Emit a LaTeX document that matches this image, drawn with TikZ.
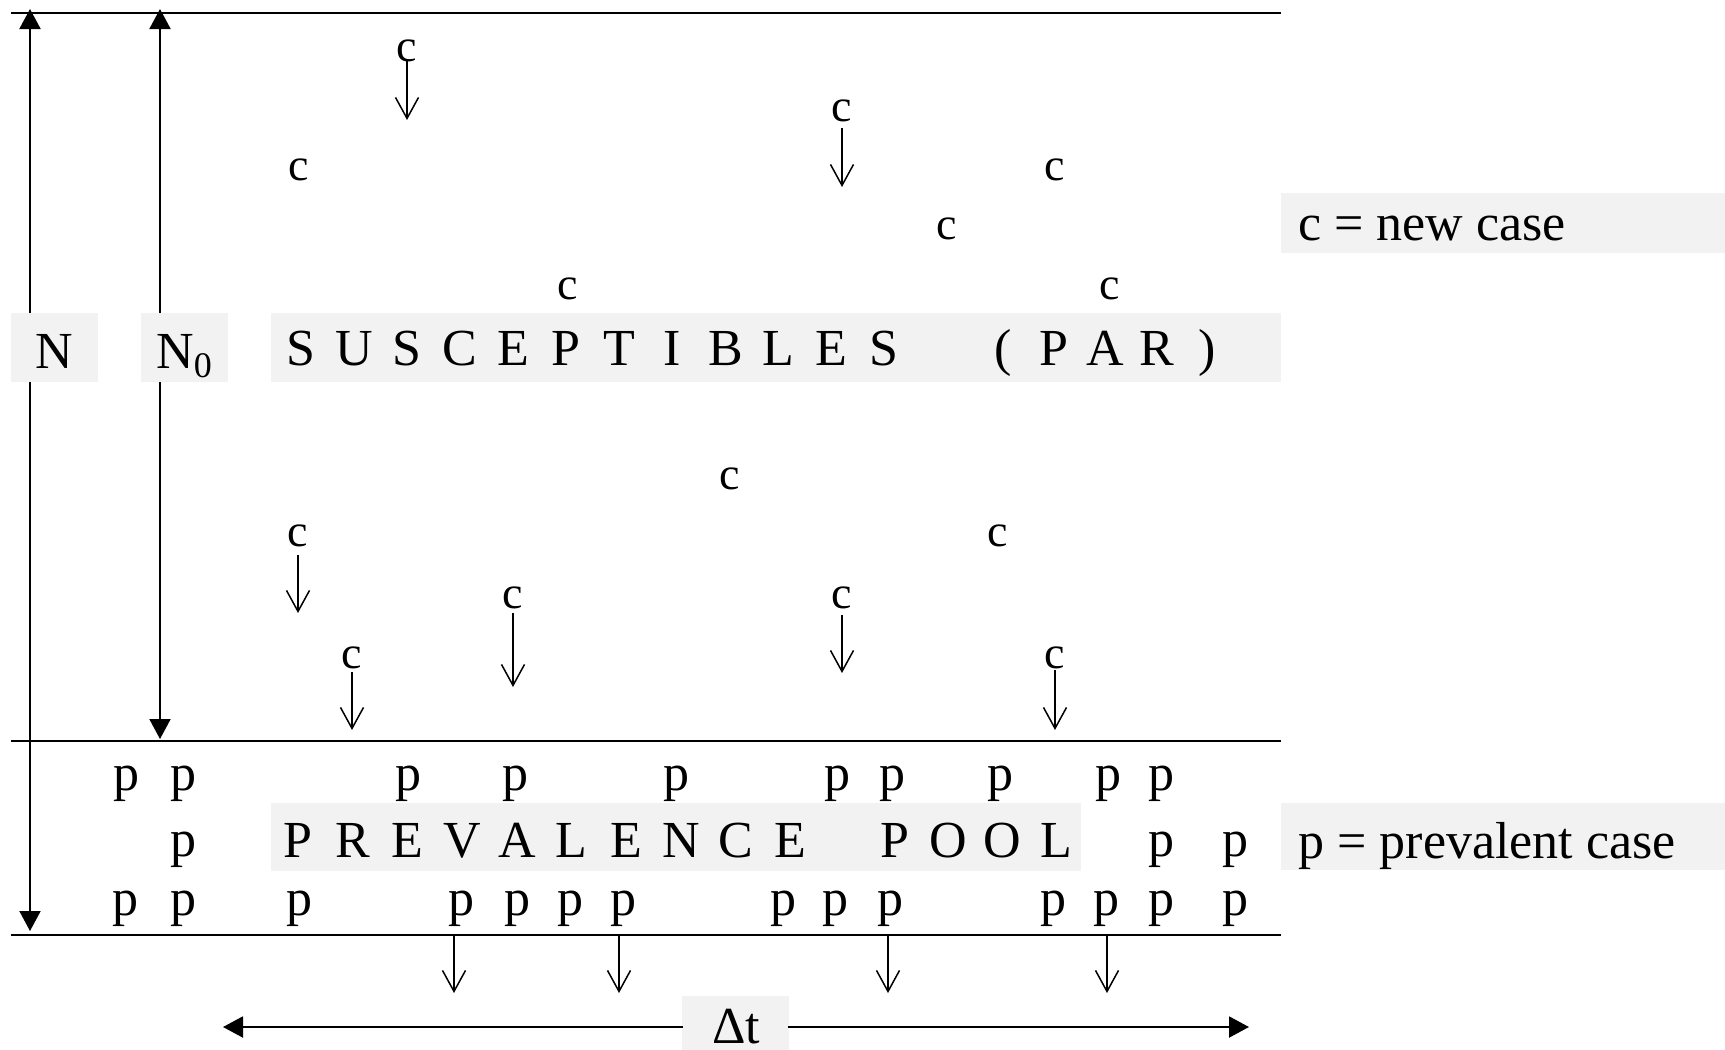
\documentclass[tikz,border=0pt]{standalone}
\usepackage{fontspec}
\setmainfont{Liberation Serif}
\usetikzlibrary{arrows.meta}
\definecolor{boxgray}{HTML}{F2F2F2}
\newcommand\bigfont{\fontsize{26}{31}\selectfont}
\newcommand\cfont{\fontsize{23}{27}\selectfont}
\newcommand\lsa[1]{\makebox[26.5pt]{#1}}
\newcommand\lsb[1]{\makebox[25.5pt]{#1}}
\newcommand\lsc[1]{\makebox[27.35pt]{#1}}
\newcommand\lsd[1]{\makebox[27pt]{#1}}
\begin{document}
\begin{tikzpicture}[x=0.5pt,y=-0.5pt,font=\bigfont,
  rule/.style={line width=1.3pt},
  tri/.style={line width=1pt,-{Triangle[length=10pt,width=10.5pt]}},
  dbl/.style={line width=1pt,{Triangle[length=10pt,width=10.5pt]}-{Triangle[length=10pt,width=10.5pt]}},
  carrow/.style={line width=0.75pt,-{Straight Barb[length=10.5pt,width=11.5pt]}},
  gbox/.style={fill=boxgray},
  cc/.style={inner sep=0pt,font=\cfont},
  pp/.style={inner sep=0pt,anchor=base},
  lbl/.style={inner sep=0pt,anchor=base west}]
\useasboundingbox (0,0) rectangle (1725,1050);
% horizontal rules
\coordinate (t1) at (11,13);  \coordinate (t2) at (1281,13);
\coordinate (m1) at (11,741); \coordinate (m2) at (1281,741);
\coordinate (b1) at (11,935); \coordinate (b2) at (1281,935);
\draw[rule] (t1) -- (t2);
\draw[rule] (m1) -- (m2);
\draw[rule] (b1) -- (b2);
% population arrows
\coordinate (Ntop) at (30,9);   \coordinate (Nbot) at (30,931);
\coordinate (N0top) at (160,9); \coordinate (N0bot) at (160,739);
\draw[dbl] (Nbot) -- (Ntop);
\draw[dbl] (N0bot) -- (N0top);
% grey boxes
\fill[gbox] (11,313) rectangle (98,382);
\fill[gbox] (141,313) rectangle (228,382);
\fill[gbox] (271,313) rectangle (1281,382);
\fill[gbox] (271,803) rectangle (1081,871);
\fill[gbox] (1281,193) rectangle (1725,253);
\fill[gbox] (1281,803) rectangle (1725,870);
\fill[gbox] (682,996) rectangle (789,1050);
% labels
\node[inner sep=0pt,anchor=base] (N) at (54,368) {N};
\node[lbl] (N0) at (156,368) {N\raisebox{-4.5pt}{\fontsize{18}{20}\selectfont 0}};
\node[lbl] (sus) at (274.5,365) {\lsa{S}\lsa{U}\lsa{S}\lsa{C}\lsa{E}\lsa{P}\lsa{T}\lsa{I}\lsa{B}\lsa{L}\lsa{E}\lsa{S}\hspace{33.5pt}\lsb{(}\lsb{P}\lsb{A}\lsb{R}\lsb{)}};
\node[lbl] (prev) at (270.65,857) {\lsc{P}\lsc{R}\lsc{E}\lsc{V}\lsc{A}\lsc{L}\lsc{E}\lsc{N}\lsc{C}\lsc{E}\hspace{24.8pt}\lsd{P}\lsd{O}\lsd{O}\lsd{L}};
\node[lbl] (legc) at (1298,240) {c = new case};
\node[lbl] (legp) at (1298,858) {p = prevalent case};
\node[inner sep=0pt,anchor=base] (dt) at (736,1043) {Δt};
% new cases
\foreach \n/\x/\y in {1/407/51,2/299/170,3/842/111,4/1055/170,5/947/229,6/568/289,7/1110/289,8/730/479,9/298/536,10/998/536,11/513/598,12/842/598,13/352/658,14/1055/658}
  {\node[cc] (c\n) at (\x,\y) {c};}
\foreach \n/\x/\a/\b in {1/407/61/120,3/842/128/187,9/298/555/613,11/513/613/687,12/842/615/673,13/352/672/730,14/1055/670/730}
  {\coordinate (cs\n) at (\x,\a); \coordinate (ce\n) at (\x,\b); \draw[carrow] (cs\n) -- (ce\n);}
% prevalent cases
\foreach \x [count=\i] in {126,183,408,515,676,837,892,1000,1108,1161}
  {\node[pp] (pa\i) at (\x,790) {p};}
\foreach \x [count=\i] in {183,1161,1235}
  {\node[pp] (pb\i) at (\x,856) {p};}
\foreach \x [count=\i] in {125,183,299,461,517,570,623,783,835,890,1053,1106,1161,1235}
  {\node[pp] (pc\i) at (\x,915) {p};}
% exits
\foreach \n/\x in {1/454,2/619,3/888,4/1107}
  {\coordinate (os\n) at (\x,935); \coordinate (oe\n) at (\x,993); \draw[carrow] (os\n) -- (oe\n);}
% time arrow
\coordinate (dl) at (683,1027); \coordinate (dr) at (788,1027);
\coordinate (aL) at (223,1027); \coordinate (aR) at (1249,1027);
\draw[tri] (dl) -- (aL);
\draw[tri] (dr) -- (aR);
\end{tikzpicture}
\end{document}
